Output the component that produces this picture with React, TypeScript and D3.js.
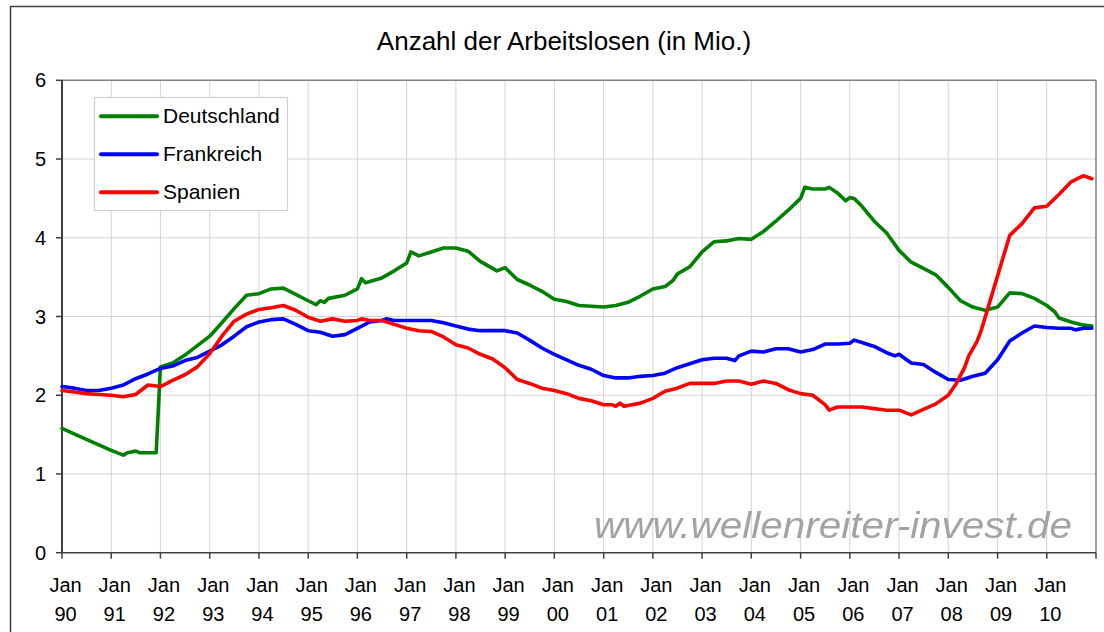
import React from "react";
import * as d3 from "d3";

const titleText = "Anzahl der Arbeitslosen (in Mio.)";
const watermarkText = "www.wellenreiter-invest.de";
const yTicks = [0, 1, 2, 3, 4, 5, 6];
const xTickYears = [1990, 1991, 1992, 1993, 1994, 1995, 1996, 1997, 1998, 1999, 2000, 2001, 2002, 2003, 2004, 2005, 2006, 2007, 2008, 2009, 2010];
const xTickTop = "Jan";

const seriesNames = ["Deutschland", "Frankreich", "Spanien"];
const seriesColors = ["#008000", "#0000ff", "#ff0000"];

const deutschlandDates = [
  "1990-01", "1990-04", "1990-07", "1990-10", "1991-01", "1991-04", "1991-05", "1991-07", "1991-08", "1991-12",
  "1992-01", "1992-04", "1992-07", "1992-10", "1993-01", "1993-04", "1993-07", "1993-10", "1994-01", "1994-04",
  "1994-07", "1994-10", "1995-01", "1995-03", "1995-04", "1995-05", "1995-06", "1995-10", "1996-01", "1996-02",
  "1996-03", "1996-07", "1996-10", "1997-01", "1997-02", "1997-04", "1997-07", "1997-10", "1998-01", "1998-04",
  "1998-07", "1998-11", "1999-01", "1999-04", "1999-07", "1999-10", "2000-01", "2000-04", "2000-07", "2000-10",
  "2001-01", "2001-04", "2001-07", "2001-10", "2002-01", "2002-04", "2002-06", "2002-07", "2002-10", "2003-01",
  "2003-04", "2003-07", "2003-10", "2004-01", "2004-04", "2004-07", "2004-10", "2005-01", "2005-02", "2005-04",
  "2005-07", "2005-08", "2005-10", "2005-12", "2006-01", "2006-02", "2006-04", "2006-07", "2006-10", "2007-01",
  "2007-04", "2007-07", "2007-10", "2008-01", "2008-04", "2008-07", "2008-10", "2009-01", "2009-04", "2009-07",
  "2009-10", "2010-01", "2010-03", "2010-04", "2010-07", "2010-10", "2010-12",
];
const deutschlandValues = [
  1.58, 1.51, 1.44, 1.37, 1.30, 1.24, 1.27, 1.29, 1.27, 1.27,
  2.36, 2.41, 2.51, 2.63, 2.75, 2.92, 3.10, 3.27, 3.29, 3.35,
  3.36, 3.28, 3.20, 3.15, 3.20, 3.18, 3.23, 3.27, 3.35, 3.48,
  3.43, 3.49, 3.58, 3.68, 3.82, 3.77, 3.82, 3.87, 3.87, 3.83,
  3.70, 3.58, 3.62, 3.47, 3.40, 3.32, 3.22, 3.19, 3.14, 3.13,
  3.12, 3.14, 3.18, 3.26, 3.35, 3.38, 3.46, 3.54, 3.63, 3.82,
  3.95, 3.96, 3.99, 3.98, 4.08, 4.21, 4.35, 4.50, 4.64, 4.62,
  4.62, 4.64, 4.57, 4.47, 4.51, 4.50, 4.40, 4.21, 4.06, 3.84,
  3.69, 3.61, 3.53, 3.37, 3.20, 3.12, 3.08, 3.12, 3.30, 3.29,
  3.23, 3.14, 3.06, 2.98, 2.93, 2.89, 2.88,
];

const frankreichDates = [
  "1990-01", "1990-04", "1990-07", "1990-10", "1991-01", "1991-04", "1991-07", "1991-10", "1992-01", "1992-04",
  "1992-07", "1992-10", "1993-01", "1993-04", "1993-07", "1993-10", "1994-01", "1994-04", "1994-07", "1994-10",
  "1995-01", "1995-04", "1995-07", "1995-10", "1996-01", "1996-04", "1996-07", "1996-08", "1996-10", "1997-01",
  "1997-04", "1997-07", "1997-10", "1998-01", "1998-04", "1998-07", "1998-10", "1999-01", "1999-04", "1999-07",
  "1999-10", "2000-01", "2000-04", "2000-07", "2000-10", "2001-01", "2001-04", "2001-07", "2001-10", "2002-01",
  "2002-04", "2002-07", "2002-10", "2003-01", "2003-04", "2003-07", "2003-09", "2003-10", "2004-01", "2004-04",
  "2004-07", "2004-10", "2005-01", "2005-04", "2005-07", "2005-10", "2006-01", "2006-02", "2006-04", "2006-07",
  "2006-10", "2006-12", "2007-01", "2007-04", "2007-07", "2007-10", "2008-01", "2008-04", "2008-07", "2008-10",
  "2009-01", "2009-04", "2009-07", "2009-10", "2010-01", "2010-04", "2010-07", "2010-08", "2010-10", "2010-12",
];
const frankreichValues = [
  2.11, 2.09, 2.06, 2.06, 2.09, 2.13, 2.21, 2.27, 2.34, 2.37,
  2.44, 2.48, 2.56, 2.64, 2.75, 2.87, 2.93, 2.96, 2.97, 2.90,
  2.82, 2.80, 2.75, 2.77, 2.85, 2.93, 2.95, 2.97, 2.95, 2.95,
  2.95, 2.95, 2.92, 2.88, 2.84, 2.82, 2.82, 2.82, 2.79, 2.70,
  2.60, 2.52, 2.45, 2.38, 2.33, 2.25, 2.22, 2.22, 2.24, 2.25,
  2.28, 2.35, 2.40, 2.45, 2.47, 2.47, 2.44, 2.50, 2.56, 2.55,
  2.59, 2.59, 2.55, 2.58, 2.65, 2.65, 2.66, 2.70, 2.67, 2.62,
  2.54, 2.50, 2.52, 2.41, 2.39, 2.29, 2.20, 2.19, 2.24, 2.28,
  2.45, 2.69, 2.79, 2.88, 2.86, 2.85, 2.85, 2.83, 2.85, 2.85,
];

const spanienDates = [
  "1990-01", "1990-04", "1990-07", "1990-10", "1991-01", "1991-04", "1991-07", "1991-10", "1992-01", "1992-04",
  "1992-07", "1992-10", "1993-01", "1993-04", "1993-07", "1993-10", "1994-01", "1994-04", "1994-07", "1994-10",
  "1995-01", "1995-04", "1995-07", "1995-10", "1996-01", "1996-02", "1996-04", "1996-07", "1996-10", "1997-01",
  "1997-04", "1997-07", "1997-10", "1998-01", "1998-04", "1998-07", "1998-10", "1999-01", "1999-04", "1999-07",
  "1999-10", "2000-01", "2000-04", "2000-07", "2000-10", "2001-01", "2001-03", "2001-04", "2001-05", "2001-06",
  "2001-07", "2001-10", "2002-01", "2002-04", "2002-07", "2002-10", "2003-01", "2003-04", "2003-07", "2003-10",
  "2004-01", "2004-04", "2004-07", "2004-10", "2005-01", "2005-04", "2005-07", "2005-08", "2005-10", "2006-01",
  "2006-04", "2006-07", "2006-10", "2007-01", "2007-04", "2007-07", "2007-10", "2008-01", "2008-03", "2008-05",
  "2008-06", "2008-08", "2008-09", "2009-04", "2009-07", "2009-10", "2010-01", "2010-04", "2010-07", "2010-10",
  "2010-12",
];
const spanienValues = [
  2.06, 2.04, 2.02, 2.01, 2.00, 1.98, 2.01, 2.13, 2.11, 2.19,
  2.26, 2.36, 2.53, 2.75, 2.94, 3.03, 3.09, 3.11, 3.14, 3.08,
  2.99, 2.94, 2.97, 2.94, 2.95, 2.97, 2.95, 2.95, 2.90, 2.85,
  2.82, 2.81, 2.74, 2.64, 2.60, 2.52, 2.46, 2.35, 2.20, 2.15,
  2.09, 2.06, 2.02, 1.96, 1.93, 1.88, 1.88, 1.86, 1.90, 1.86,
  1.87, 1.90, 1.96, 2.05, 2.09, 2.15, 2.15, 2.15, 2.18, 2.18,
  2.14, 2.18, 2.15, 2.07, 2.02, 2.00, 1.88, 1.81, 1.85, 1.85,
  1.85, 1.83, 1.81, 1.81, 1.75, 1.82, 1.89, 2.00, 2.15, 2.35,
  2.50, 2.68, 2.82, 4.03, 4.18, 4.38, 4.40, 4.55, 4.71, 4.79,
  4.75,
];

const W = 1104;
const H = 632;
const left = 62;
const right = 1096;
const top = 80.3;
const bottom = 552.7;
const FONT = "Arial, 'Liberation Sans', sans-serif";

const parse = d3.timeParse("%Y-%m");

export default function App() {
  const x = d3
    .scaleTime()
    .domain([new Date(1990, 0, 1), new Date(2011, 0, 1)])
    .range([left, right]);
  const y = d3.scaleLinear().domain([0, 6]).range([bottom, top]);

  const series = [
    { dates: deutschlandDates, values: deutschlandValues },
    { dates: frankreichDates, values: frankreichValues },
    { dates: spanienDates, values: spanienValues },
  ];

  const line = d3
    .line<[Date, number]>()
    .x((d) => x(d[0]))
    .y((d) => y(d[1]));

  const yearTicks = xTickYears.map((yr) => new Date(yr, 0, 1));

  return (
    <svg
      width={W}
      height={H}
      style={{ position: "absolute", left: 0, top: 0, background: "#fff" }}
      fontFamily={FONT}
    >
      <rect x={0} y={0} width={W} height={H} fill="#fff" />
      {/* outer frame */}
      <rect x={10.5} y={6.5} width={W + 20} height={H + 20} fill="none" stroke="#404040" strokeWidth={1.5} />
      {/* title */}
      <text x={564} y={50} textAnchor="middle" fontSize={26} fill="#000">
        {titleText}
      </text>

      {/* grid */}
      {yTicks
        .filter((t) => t > 0 && t < 6)
        .map((t) => (
          <line key={"gy" + t} x1={left} x2={right} y1={y(t)} y2={y(t)} stroke="#d4d4d4" strokeWidth={1} />
        ))}
      {yearTicks.slice(1).map((d, i) => (
        <line key={"gx" + i} x1={x(d)} x2={x(d)} y1={top} y2={bottom} stroke="#d4d4d4" strokeWidth={1} />
      ))}

      {/* plot border top/right */}
      <line x1={left} x2={right} y1={top} y2={top} stroke="#808080" strokeWidth={1.5} />
      <line x1={right} x2={right} y1={top} y2={bottom} stroke="#808080" strokeWidth={1.5} />

      {/* watermark */}
      <text
        x={594}
        y={538}
        fontSize={36}
        fontStyle="italic"
        fill="#a3a3a3"
        textLength={478}
        lengthAdjust="spacingAndGlyphs"
        style={{ filter: "blur(0.4px)" }}
      >
        {watermarkText}
      </text>

      {/* y axis */}
      <line x1={left} x2={left} y1={top} y2={bottom} stroke="#000" strokeWidth={1.5} />
      {yTicks.map((t) => (
        <g key={"yt" + t}>
          <line x1={left - 6} x2={left} y1={y(t)} y2={y(t)} stroke="#404040" strokeWidth={1.5} />
          <text x={46} y={y(t) + 7} textAnchor="end" fontSize={20} fill="#000">
            {t}
          </text>
        </g>
      ))}

      {/* x axis */}
      <line x1={left} x2={right} y1={bottom} y2={bottom} stroke="#404040" strokeWidth={1.5} />
      {yearTicks.map((d, i) => (
        <g key={"xt" + i}>
          <line x1={x(d)} x2={x(d)} y1={bottom} y2={bottom + 6} stroke="#404040" strokeWidth={1.5} />
          <text x={x(d) + 3.5} y={592} textAnchor="middle" fontSize={20} fill="#000">
            {xTickTop}
          </text>
          <text x={x(d) + 3.5} y={621} textAnchor="middle" fontSize={20} fill="#000">
            {String(xTickYears[i] % 100).padStart(2, "0")}
          </text>
        </g>
      ))}
      <line x1={right} x2={right} y1={bottom} y2={bottom + 6} stroke="#404040" strokeWidth={1.5} />

      {/* series */}
      {series.map((s, i) => {
        const pts: [Date, number][] = s.dates.map((d, j) => [parse(d) as Date, s.values[j]]);
        return (
          <path
            key={"s" + i}
            d={line(pts) || ""}
            fill="none"
            stroke={seriesColors[i]}
            strokeWidth={3.6}
            strokeLinejoin="round"
            strokeLinecap="round"
          />
        );
      })}

      {/* legend */}
      <rect x={94.5} y={97.5} width={193} height={113} fill="#fff" stroke="#d0d0d0" strokeWidth={1.2} />
      {seriesNames.map((name, i) => (
        <g key={"lg" + i}>
          <line
            x1={101}
            x2={157}
            y1={116.3 + i * 38}
            y2={116.3 + i * 38}
            stroke={seriesColors[i]}
            strokeWidth={4}
            strokeLinecap="round"
          />
          <text x={163} y={123 + i * 38} fontSize={21} fill="#000">
            {name}
          </text>
        </g>
      ))}
    </svg>
  );
}
